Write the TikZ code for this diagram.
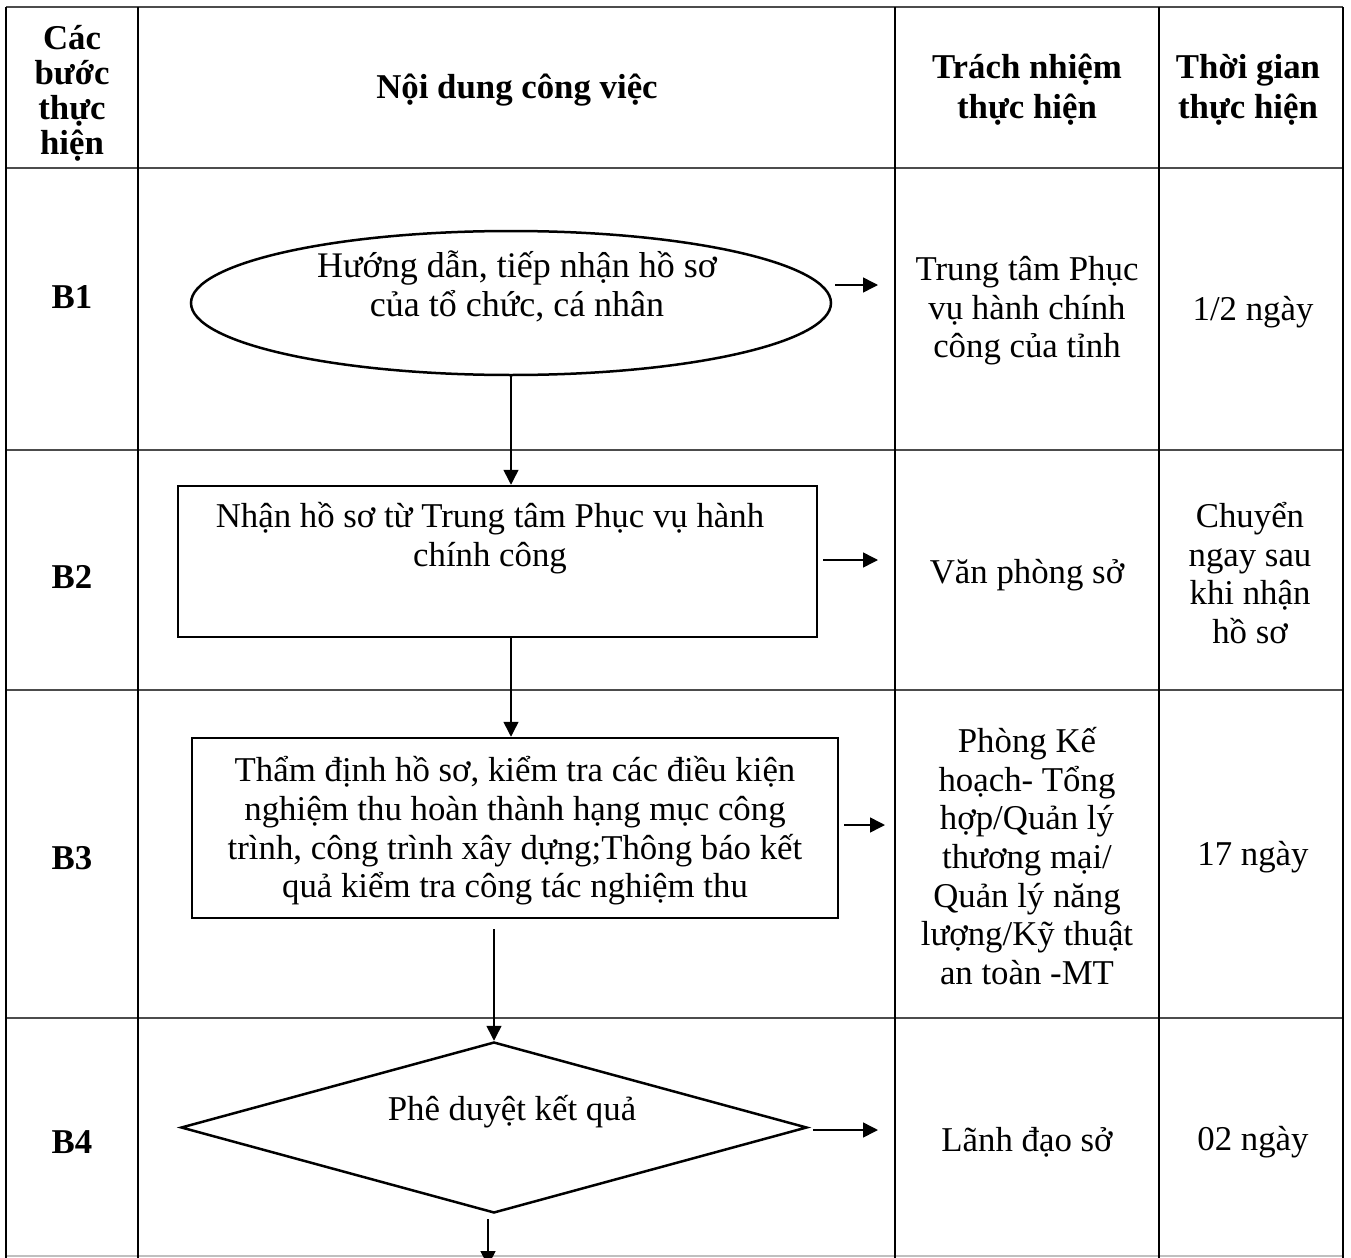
\documentclass[tikz,border=0pt]{standalone}
\usepackage{fontspec}
\setmainfont{Liberation Serif}
\usetikzlibrary{shapes.geometric, arrows.meta, positioning}

\begin{document}
\begin{tikzpicture}[
    x=0.5pt, y=-0.5pt,
    rowline/.style={draw=black!70, line width=1pt},
    colline/.style={draw=black, line width=0.7pt},
    cell/.style={align=center, inner sep=0pt, font=\fontsize{17.4}{19.3}\selectfont},
    headcell/.style={cell, font=\fontsize{17.4}{20}\selectfont\bfseries},
    shapebox/.style={draw, line width=1.25pt, inner sep=0pt},
    termbox/.style={shapebox, ellipse, minimum width=320pt, minimum height=72pt},
    workbox/.style={shapebox, rectangle},
    decision/.style={shapebox, diamond, minimum width=313pt, minimum height=85.5pt},
    arrow/.style={-{Triangle[length=7.5pt, width=7.5pt]}, line width=0.75pt}
  ]
    \useasboundingbox (0,0) rectangle (1351,1258);

    % Table grid
    \foreach \y in {7,168,450,690,1018}
      \draw[rowline] (6,\y) -- (1343,\y);
    \draw[black!25, line width=0.75pt] (6,1256) -- (1343,1256);
    \foreach \x in {6,138,895,1159,1343}
      \draw[colline] (\x,7) -- (\x,1258);

    % Header
    \node[headcell, font=\fontsize{17.4}{17.5}\selectfont\bfseries] (h1) at (72,93) {Các\\bước\\thực\\hiện};
    \node[headcell] (h2) at (517,90) {Nội dung công việc};
    \node[headcell] (h3) at (1027,90) {Trách nhiệm\\thực hiện};
    \node[headcell] (h4) at (1248,90) {Thời gian\\thực hiện};

    % Step labels
    \node[headcell] (s1) at (72,297) {B1};
    \node[headcell] (s2) at (72,577) {B2};
    \node[headcell] (s3) at (72,858) {B3};
    \node[headcell] (s4) at (72,1142) {B4};

    % Flow shapes
    \node[termbox] (b1) at (511,303) {};
    \node[workbox, minimum width=319.5pt, minimum height=75.5pt] (b2) at (497.5,561.5) {};
    \node[workbox, minimum width=323pt, minimum height=90pt] (b3) at (515,828) {};
    \node[decision] (b4) at (494,1127.5) {};

    \node[cell, font=\fontsize{18}{19.5}\selectfont] (b1text) at (517,286) {Hướng dẫn, tiếp nhận hồ sơ\\của tổ chức, cá nhân};
    \node[cell] (b2text) at (490,538) {Nhận hồ sơ từ Trung tâm Phục vụ hành\\chính công};
    \node[cell] (b3text) at (515,831) {Thẩm định hồ sơ, kiểm tra các điều kiện\\nghiệm thu hoàn thành hạng mục công\\trình, công trình xây dựng;Thông báo kết\\quả kiểm tra công tác nghiệm thu};
    \node[cell] (b4text) at (512,1112) {Phê duyệt kết quả};

    % Responsibility
    \node[cell] (r1) at (1027,311) {Trung tâm Phục\\vụ hành chính\\công của tỉnh};
    \node[cell] (r2) at (1027,575) {Văn phòng sở};
    \node[cell] (r3) at (1027,856) {Phòng Kế\\hoạch- Tổng\\hợp/Quản lý\\thương mại/\\Quản lý năng\\lượng/Kỹ thuật\\an toàn -MT};
    \node[cell] (r4) at (1027,1142) {Lãnh đạo sở};

    % Time
    \node[cell] (t1) at (1253,312) {1/2 ngày};
    \node[cell] (t2) at (1250,573) {Chuyển\\ngay sau\\khi nhận\\hồ sơ};
    \node[cell] (t3) at (1253,857) {17 ngày};
    \node[cell] (t4) at (1253,1142) {02 ngày};

    % Arrow ends
    \coordinate (e1) at (878,285);
    \coordinate (e2) at (878,560);
    \coordinate (e3) at (885,825);
    \coordinate (e4) at (878,1130);
    \coordinate (e5) at (488,1266);

    % Connections
    \draw[arrow] ([xshift=1.5pt]b1.east |- e1) -- (e1);
    \draw[arrow] ([xshift=2.5pt]b2.east |- e2) -- (e2);
    \draw[arrow] ([xshift=2.5pt]b3.east |- e3) -- (e3);
    \draw[arrow] ([xshift=2.5pt]b4.east |- e4) -- (e4);
    \draw[arrow] (b1.south) -- (b1.south |- b2.north);
    \draw[arrow] (b2.south -| b1) -- (b3.north -| b1);
    \draw[arrow] ([yshift=-5pt]b3.south -| b4.north) -- (b4.north);
    \draw[arrow] ([yshift=-2.5pt]b4.south -| e5) -- (e5);

  \end{tikzpicture}
\end{document}
